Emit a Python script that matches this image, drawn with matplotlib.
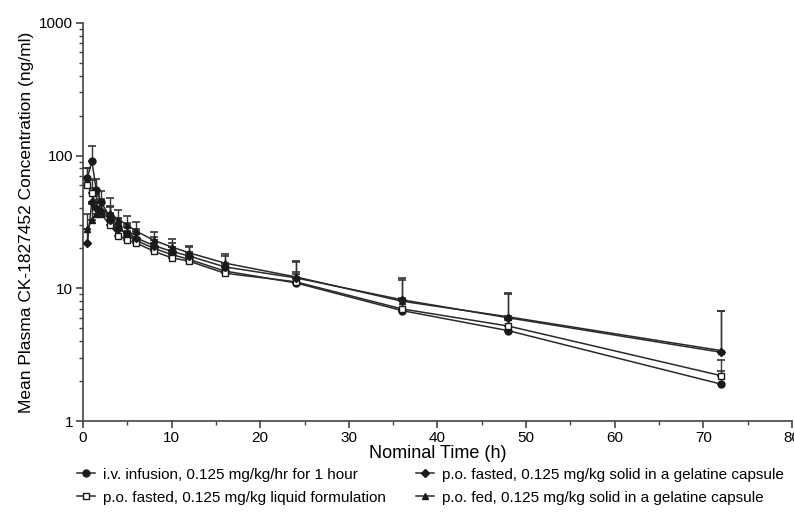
import matplotlib
matplotlib.use('Agg')
import matplotlib.pyplot as plt
from matplotlib.ticker import LogLocator, FixedLocator, NullFormatter, FuncFormatter

plt.rcParams['font.family'] = ['Liberation Sans', 'DejaVu Sans']

# Nominal sampling times (h)
times = [0.5, 1, 1.5, 2, 3, 4, 5, 6, 8, 10, 12, 16, 24, 36, 48, 72]

# Mean concentrations (ng/ml)
iv_mean = [68, 91, 55, 45, 35, 29, 25, 23, 20, 18, 16.5, 13.5, 11, 6.8, 4.8, 1.9]
liq_mean = [60, 52, 42, 37, 30, 25, 23, 22, 19, 17, 16, 13, 11.2, 7.0, 5.2, 2.2]
solid_mean = [22, 45, 40, 38, 33, 28, 26, 24, 21, 19, 17.5, 14.5, 12, 8.2, 6.0, 3.3]
fed_mean = [28, 33, 36, 36, 37, 33, 30, 27, 23, 20.5, 18.5, 15.5, 12.2, 8.0, 6.1, 3.4]

# Upper SD (ng/ml)
iv_sd = [12, 28, 12, 9, 7, 5, 4, 3.5, 3, 2.5, 2.2, 2, 1.8, 1.5, 1.0, 0.5]
liq_sd = [20, 14, 9, 7, 6, 5, 4, 3.5, 3, 2.5, 2.2, 2, 2.0, 1.5, 1.0, 0.7]
solid_sd = [6, 12, 10, 9, 8, 6, 5, 4, 3.5, 3, 3, 3, 4.0, 3.8, 3.2, 3.4]
fed_sd = [8, 10, 10, 9, 11, 6, 5, 4.5, 3.5, 3, 2.5, 2.5, 3.5, 3.5, 3.0, 3.3]

labels = ['i.v. infusion, 0.125 mg/kg/hr for 1 hour',
          'p.o. fasted, 0.125 mg/kg liquid formulation',
          'p.o. fasted, 0.125 mg/kg solid in a gelatine capsule',
          'p.o. fed, 0.125 mg/kg solid in a gelatine capsule']

fig = plt.figure(figsize=(7.94, 5.18), dpi=100)
ax = fig.add_axes([0.1045, 0.187, 0.893, 0.769])

col = '#1a1a1a'
series = [
    (iv_mean, iv_sd, 'o', col, 5),
    (liq_mean, liq_sd, 's', 'white', 4),
    (solid_mean, solid_sd, 'D', col, 4.5),
    (fed_mean, fed_sd, '^', col, 5),
]

handles = []
for (m, sd, mk, fc, ms), lab in zip(series, labels):
    ax.errorbar(times, m, yerr=[[0] * len(sd), sd], fmt='none', ecolor='#333333',
                elinewidth=1, capsize=3, capthick=1.2, zorder=2)
    h, = ax.plot(times, m, marker=mk, markersize=ms, color='#2a2a2a', lw=1.1,
                 markerfacecolor=fc, markeredgecolor=col, markeredgewidth=1,
                 label=lab, zorder=3)
    handles.append(h)

ax.set_yscale('log')
ax.set_ylim(1, 1000)
ax.set_xlim(0, 80)
ax.set_xticks(range(0, 81, 10))
ax.xaxis.set_minor_locator(FixedLocator(range(5, 80, 10)))
ax.yaxis.set_major_locator(FixedLocator([1, 10, 100, 1000]))
ax.yaxis.set_major_formatter(FuncFormatter(lambda v, p: '%d' % v))
ax.yaxis.set_minor_locator(LogLocator(base=10, subs=range(2, 10)))
ax.yaxis.set_minor_formatter(NullFormatter())

for s in ['top', 'right']:
    ax.spines[s].set_visible(False)
for s in ['left', 'bottom']:
    ax.spines[s].set_color('#444444')
    ax.spines[s].set_linewidth(1.2)

ax.tick_params(which='major', length=5, width=1.2, color='#444444', labelsize=11, pad=2)
ax.tick_params(which='minor', length=3, width=1, color='#444444')

ax.set_xlabel('Nominal Time (h)', fontsize=13, labelpad=0)
ax.set_ylabel('Mean Plasma CK-1827452 Concentration (ng/ml)', fontsize=12.5, labelpad=4)

# ncol=2 fills column-wise: i.v. / liquid in the left column
fig.legend(handles, labels, loc='lower left',
           bbox_to_anchor=(0.085, 0.008), ncol=2, frameon=False, fontsize=11,
           handlelength=1.2, handletextpad=0.5, columnspacing=2.0,
           labelspacing=0.6, borderaxespad=0.2)

fig.savefig('out.png', dpi=100)
